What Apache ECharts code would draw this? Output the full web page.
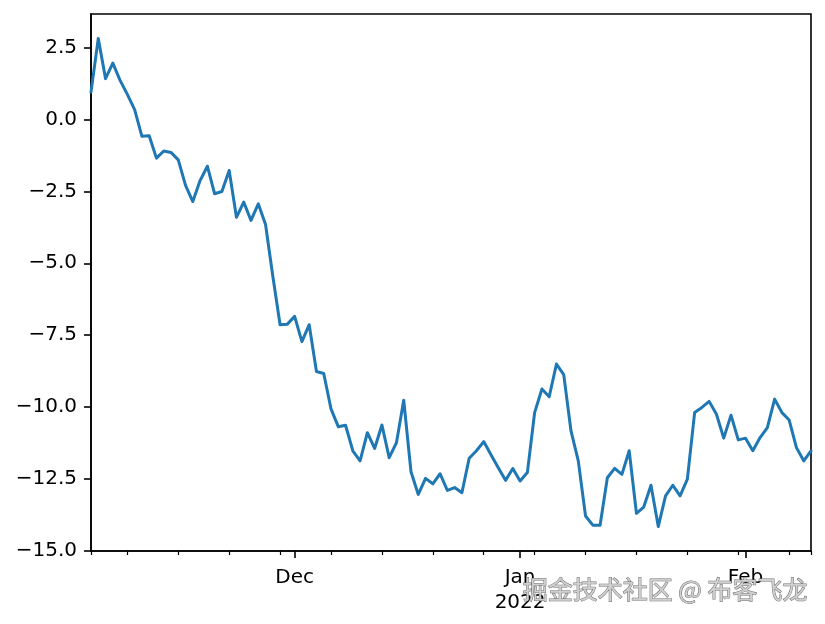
<!DOCTYPE html>
<html>
<head>
<meta charset="utf-8">
<script src="https://cdn.jsdelivr.net/npm/echarts@6/dist/echarts.min.js"></script>
<style>html,body{margin:0;padding:0;background:#fff}#c{width:825px;height:624px}</style>
</head>
<body>
<div id="c"></div>
<script>
// Daily series: 2021-11-03 .. 2022-02-10 (100 days)
const startDate = '2021-11-03';
const dayCount = 100;
const values = [
  0.96, 2.83, 1.43, 1.97, 1.37, 0.88, 0.35, -0.58, -0.56, -1.34,
  -1.09, -1.14, -1.40, -2.29, -2.85, -2.12, -1.62, -2.58, -2.50, -1.77,
  -3.40, -2.87, -3.51, -2.93, -3.65, -5.45, -7.14, -7.12, -6.85, -7.73,
  -7.14, -8.77, -8.84, -10.07, -10.69, -10.64, -11.53, -11.88, -10.90, -11.45,
  -10.63, -11.77, -11.25, -9.77, -12.26, -13.05, -12.49, -12.68, -12.33, -12.91,
  -12.81, -12.99, -11.79, -11.53, -11.21, -11.67, -12.12, -12.56, -12.15, -12.58,
  -12.29, -10.20, -9.38, -9.65, -8.51, -8.88, -10.84, -11.88, -13.80, -14.12,
  -14.12, -12.47, -12.14, -12.35, -11.53, -13.71, -13.49, -12.73, -14.17, -13.10,
  -12.73, -13.10, -12.52, -10.20, -10.02, -9.81, -10.26, -11.09, -10.29, -11.15,
  -11.09, -11.53, -11.07, -10.72, -9.73, -10.20, -10.46, -11.42, -11.88, -11.53
];
const yTicks = [-15, -12.5, -10, -7.5, -5, -2.5, 0, 2.5];
const majorLabels = { '2021-12-01': 'Dec', '2022-01-01': 'Jan\n2022', '2022-02-01': 'Feb' };
const watermark = '掘金技术社区 @ 布客飞龙';

const dates = [];
{
  const d0 = new Date(startDate + 'T00:00:00Z');
  for (let i = 0; i < dayCount; i++) {
    const d = new Date(d0.getTime() + i * 86400000);
    dates.push(d.toISOString().slice(0, 10));
  }
}
function isMonday(s) { return new Date(s + 'T00:00:00Z').getUTCDay() === 1; }
function isMinor(idx, s) { return isMonday(s) || idx === 0 || idx === dates.length - 1; }
function isMajor(idx, s) { return majorLabels[s] !== undefined; }
function fmtY(v) { return (v < 0 ? '\u2212' : '') + Math.abs(v).toFixed(1); }

const chart = echarts.init(document.getElementById('c'), null, { renderer: 'canvas' });
const font = 'DejaVu Sans';
chart.setOption({
  animation: false,
  backgroundColor: '#fff',
  grid: { left: 91, top: 14, width: 720, height: 537, show: true, borderColor: '#000', borderWidth: 1.6, backgroundColor: 'transparent' },
  xAxis: [
    {
      type: 'category', data: dates, boundaryGap: false, position: 'bottom',
      axisLine: { show: true, onZero: false, lineStyle: { color: '#000', width: 1.6 } },
      axisTick: { show: true, interval: isMinor, length: 4, lineStyle: { color: '#000', width: 1.2 } },
      axisLabel: { show: false },
      splitLine: { show: false }
    },
    {
      type: 'category', data: dates, boundaryGap: false, position: 'bottom', gridIndex: 0,
      axisLine: { show: false, onZero: false },
      axisTick: { show: true, interval: isMajor, length: 7, lineStyle: { color: '#000', width: 1.6 } },
      axisLabel: {
        show: true, interval: isMajor, margin: 14, color: '#000', fontFamily: font, fontSize: 20, lineHeight: 25,
        formatter: function (v) { return majorLabels[v] || ''; }
      },
      splitLine: { show: false }
    }
  ],
  yAxis: {
    type: 'value', min: -15.02, max: 3.68,
    axisLine: { show: true, onZero: false, lineStyle: { color: '#000', width: 1.6 } },
    axisTick: { show: true, length: 7, lineStyle: { color: '#000', width: 1.6 }, customValues: yTicks },
    axisLabel: { show: true, margin: 14, color: '#000', fontFamily: font, fontSize: 20, customValues: yTicks, formatter: fmtY },
    splitLine: { show: false }
  },
  series: [{
    type: 'line', xAxisIndex: 0, data: values, showSymbol: false, symbol: 'none',
    lineStyle: { color: '#1f77b4', width: 3, cap: 'round', join: 'round' }
  }],
  graphic: [{
    type: 'text', right: 17, top: 576, z: 100,
    style: { text: watermark, fontSize: 25, fontFamily: 'Noto Sans CJK SC', fill: '#cfcfcf', stroke: '#6e6e6e', lineWidth: 1 }
  }]
});
</script>
</body>
</html>
